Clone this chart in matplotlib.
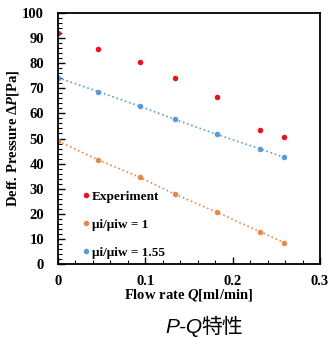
import numpy as np
import matplotlib
matplotlib.use("Agg")
from matplotlib import pyplot as plt
from matplotlib.ticker import MultipleLocator

# flow rate Q [ml/min]
flow = [0.0, 0.046, 0.094, 0.134, 0.182, 0.231, 0.259]
exp_dp = [92.0, 85.7, 80.5, 74.3, 66.5, 53.3, 50.5]
dp_ratio1 = [49.0, 41.5, 34.5, 27.8, 20.6, 12.9, 8.5]
dp_ratio155 = [74.2, 68.7, 62.8, 57.6, 51.6, 45.9, 42.5]
xticks = [0, 0.1, 0.2, 0.3]
xtick_labels = ['0', '0.1', '0.2', '0.3']

plt.rcParams['font.family'] = ['Liberation Serif', 'DejaVu Serif']
plt.rcParams['font.weight'] = 'bold'
plt.rcParams['axes.labelweight'] = 'bold'
plt.rcParams['mathtext.fontset'] = 'custom'
plt.rcParams['mathtext.rm'] = 'Liberation Serif:bold'
plt.rcParams['mathtext.it'] = 'Liberation Serif:italic:bold'

fig = plt.figure(figsize=(3.29, 3.38), dpi=100)
ax = fig.add_axes([58/329, 1-264/338, 262/329, 251/338])

red, orange, blue = '#e8141c', '#e8894a', '#5b9bd5'
ax.plot(flow, dp_ratio1, ':', color=orange, lw=1.2)
ax.plot(flow, dp_ratio155, ':', color=blue, lw=1.2)
ax.plot(flow, exp_dp, 'o', color=red, ms=4, mec='none', label='Experiment')
ax.plot(flow, dp_ratio1, 'o', color=orange, ms=4, mec='none', label='μi/μiw = 1')
ax.plot(flow, dp_ratio155, 'o', color=blue, ms=4, mec='none', label='μi/μiw = 1.55')

ax.set_xlim(0, 0.3)
ax.set_ylim(0, 100)
ax.set_xticks(xticks, xtick_labels)
ax.xaxis.set_minor_locator(MultipleLocator(0.02))
ax.yaxis.set_major_locator(MultipleLocator(10))
ax.yaxis.set_minor_locator(MultipleLocator(2))
ax.tick_params(which='both', direction='in', top=False, right=False,
               labelsize=10.5)
ax.tick_params(which='major', length=5, width=1)
ax.tick_params(which='minor', length=3, width=0.8)
ax.tick_params(axis='x', pad=8)
ax.tick_params(axis='y', pad=10)
for s in ax.spines.values():
    s.set_linewidth(1.3)

ax.set_xlabel(r'Flow rate $Q$[ml/min]', fontsize=10.5, labelpad=-1)
ax.set_ylabel(r'Deff. Pressure $\Delta P$[Pa]', fontsize=10.5, labelpad=1)

ax.legend(loc='lower left', frameon=False, fontsize=9.5, handletextpad=0.1,
          handlelength=0.8, labelspacing=1.2, borderaxespad=0.0,
          bbox_to_anchor=(0.065, 0.0))

fig.text(165/329, 1-333/338, 'P-Q', fontsize=15, style='italic',
         family=['Liberation Sans'], weight='normal', va='baseline')
fig.text(201/329, 1-333/338, '特性', fontsize=15,
         family=['Noto Sans CJK JP', 'DejaVu Sans'], weight='normal',
         va='baseline')

plt.savefig("out.png", dpi=100)
